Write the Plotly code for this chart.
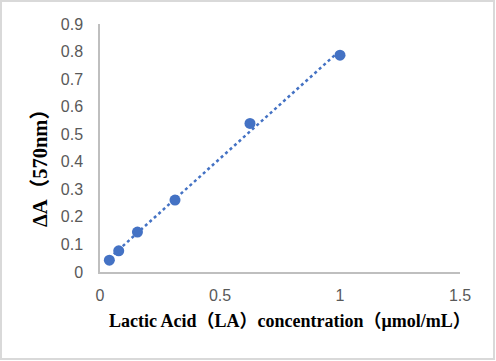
import numpy as np
import plotly.graph_objects as go

concentration = [0.039, 0.078, 0.156, 0.3125, 0.625, 1.0]
delta_a = [0.043, 0.077, 0.145, 0.261, 0.539, 0.787]
x_ticks = [0, 0.5, 1, 1.5]
x_tick_labels = ["0", "0.5", "1", "1.5"]
y_ticks = [0, 0.1, 0.2, 0.3, 0.4, 0.5, 0.6, 0.7, 0.8, 0.9]
y_tick_labels = ["0", "0.1", "0.2", "0.3", "0.4", "0.5", "0.6", "0.7", "0.8", "0.9"]
x_title = "Lactic Acid（LA）concentration（μmol/mL）"
y_title = "ΔA（570nm）"

color = "#4472C4"

slope, intercept = np.polyfit(concentration, delta_a, 1)
trend_x = [min(concentration), max(concentration)]
trend_y = [slope * v + intercept for v in trend_x]

fig = go.Figure()
fig.add_trace(go.Scatter(x=trend_x, y=trend_y, mode="lines",
                         line=dict(color=color, width=2.5, dash="dot"),
                         hoverinfo="skip", showlegend=False))
fig.add_trace(go.Scatter(x=concentration, y=delta_a, mode="markers",
                         marker=dict(color=color, size=11),
                         showlegend=False))

L, R, T, B = 100, 36, 24, 89
W, H = 496, 361
pw, ph = W - L - R, H - T - B

def px_x(p):
    return (p - L) / pw

def px_y(p):
    return (H - B - p) / ph

fig.update_layout(
    width=W, height=H,
    margin=dict(l=L, r=R, t=T, b=B, autoexpand=False),
    paper_bgcolor="white", plot_bgcolor="white",
    font=dict(family="Liberation Sans", size=16, color="#595959"),
    xaxis=dict(range=[0, 1.5], tickvals=x_ticks, ticktext=x_tick_labels,
               showline=True, linecolor="#bfbfbf", linewidth=1.5,
               showgrid=False, zeroline=False, ticks="", ticklabelstandoff=8),
    yaxis=dict(range=[0, 0.9], tickvals=y_ticks, ticktext=y_tick_labels,
               showline=True, linecolor="#bfbfbf", linewidth=1.5,
               showgrid=False, zeroline=False, ticks="", ticklabelstandoff=12),
    shapes=[dict(type="rect", xref="paper", yref="paper",
                 x0=px_x(1), x1=px_x(494), y0=px_y(359), y1=px_y(1),
                 line=dict(color="#d9d9d9", width=2), fillcolor="rgba(0,0,0,0)",
                 layer="below")],
    annotations=[
        dict(text="<b>" + x_title + "</b>", xref="paper", yref="paper",
             x=px_x(290), y=px_y(321), showarrow=False,
             font=dict(family="Liberation Serif, Noto Sans CJK SC", size=18, color="black"),
             xanchor="center", yanchor="middle"),
        dict(text="<b>" + y_title + "</b>", xref="paper", yref="paper",
             x=px_x(40), y=px_y(163), showarrow=False, textangle=-90,
             font=dict(family="Liberation Serif, Noto Sans CJK SC", size=20.5, color="black"),
             xanchor="center", yanchor="middle"),
    ],
)

fig.write_html("out.html", config={"displayModeBar": False},
               post_script="document.body.style.margin='0';document.body.style.padding='0';")
